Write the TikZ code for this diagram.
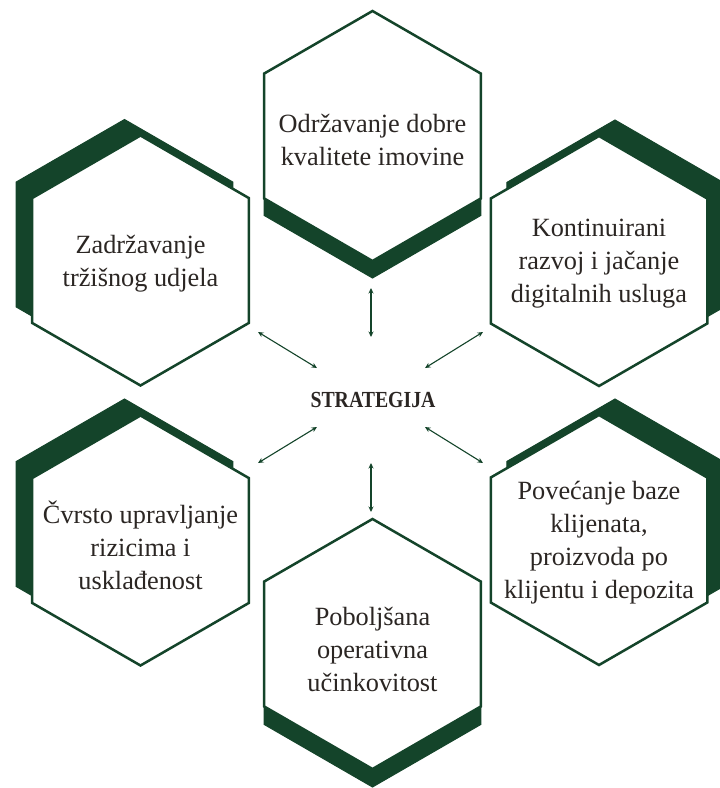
\documentclass[tikz,border=0pt]{standalone}
\usepackage{fontspec}
\usepackage{graphicx}
\setmainfont{Liberation Serif}
\usetikzlibrary{shapes.geometric,arrows.meta,calc}
\definecolor{hexgreen}{RGB}{20,68,42}
\definecolor{txtgray}{RGB}{43,38,35}
\tikzset{
  hexa/.style={regular polygon, regular polygon sides=6, shape border rotate=30,
    minimum size=250pt, inner sep=0pt, outer sep=0pt, draw=hexgreen, line width=2.5pt, fill=white},
  hexshadow/.style={regular polygon, regular polygon sides=6, shape border rotate=30,
    minimum size=250pt, inner sep=0pt, outer sep=0pt, fill=hexgreen, draw=hexgreen, line width=1pt},
  hextext/.style={align=center, text=txtgray, font=\fontsize{26.3}{33}\selectfont, inner sep=0pt},
  link/.style={draw=hexgreen, line width=1.1pt, {Stealth[length=5.5pt,width=5pt]}-{Stealth[length=5.5pt,width=5pt]}}
}
\begin{document}
\begin{tikzpicture}[x=1pt,y=-1pt]
\useasboundingbox (0,0) rectangle (720,788);
% shadows
\node[hexshadow] (s1) at (372.5,153) {};
\node[hexshadow] (s2) at (124.5,244.5) {};
\node[hexshadow] (s3) at (615,245) {};
\node[hexshadow] (s4) at (124.5,524) {};
\node[hexshadow] (s5) at (615,524) {};
\node[hexshadow] (s6) at (372.5,662) {};
% hexagons
\node[hexa] (h1) at (372.5,136) {};
\node[hexa] (h2) at (140.5,260.5) {};
\node[hexa] (h3) at (599,261) {};
\node[hexa] (h4) at (140.5,540.5) {};
\node[hexa] (h5) at (599,540) {};
\node[hexa] (h6) at (372.5,644) {};
% texts
\node[hextext] (t1) at (372.5,140) {Održavanje dobre\\kvalitete imovine};
\node[hextext] (t2) at (140.5,264) {Zadržavanje\\tržišnog udjela};
\node[hextext] (t3) at (599,264) {Kontinuirani\\razvoj i jačanje\\digitalnih usluga};
\node[hextext] (t4) at (140.5,545) {Čvrsto upravljanje\\rizicima i\\usklađenost};
\node[hextext] (t5) at (599,543) {Povećanje baze\\klijenata,\\proizvoda po\\klijentu i depozita};
\node[hextext] (t6) at (372.5,649) {Poboljšana\\operativna\\učinkovitost};
% centre
\node[text=txtgray, font=\bfseries\fontsize{23}{26}\selectfont, inner sep=0pt] (c) at (373,400) {\scalebox{0.86}[1]{STRATEGIJA}};
% arrow end points
\coordinate (a1) at (371,288); \coordinate (b1) at (371,337);
\coordinate (a2) at (258,332); \coordinate (b2) at (317,368);
\coordinate (a3) at (483,332); \coordinate (b3) at (425,368);
\coordinate (a4) at (258,463); \coordinate (b4) at (317,427);
\coordinate (a5) at (483,463); \coordinate (b5) at (425,427);
\coordinate (a6) at (371,512); \coordinate (b6) at (371,463);
\foreach \i in {1,...,6} { \draw[link] (a\i) -- (b\i); }
\end{tikzpicture}
\end{document}
